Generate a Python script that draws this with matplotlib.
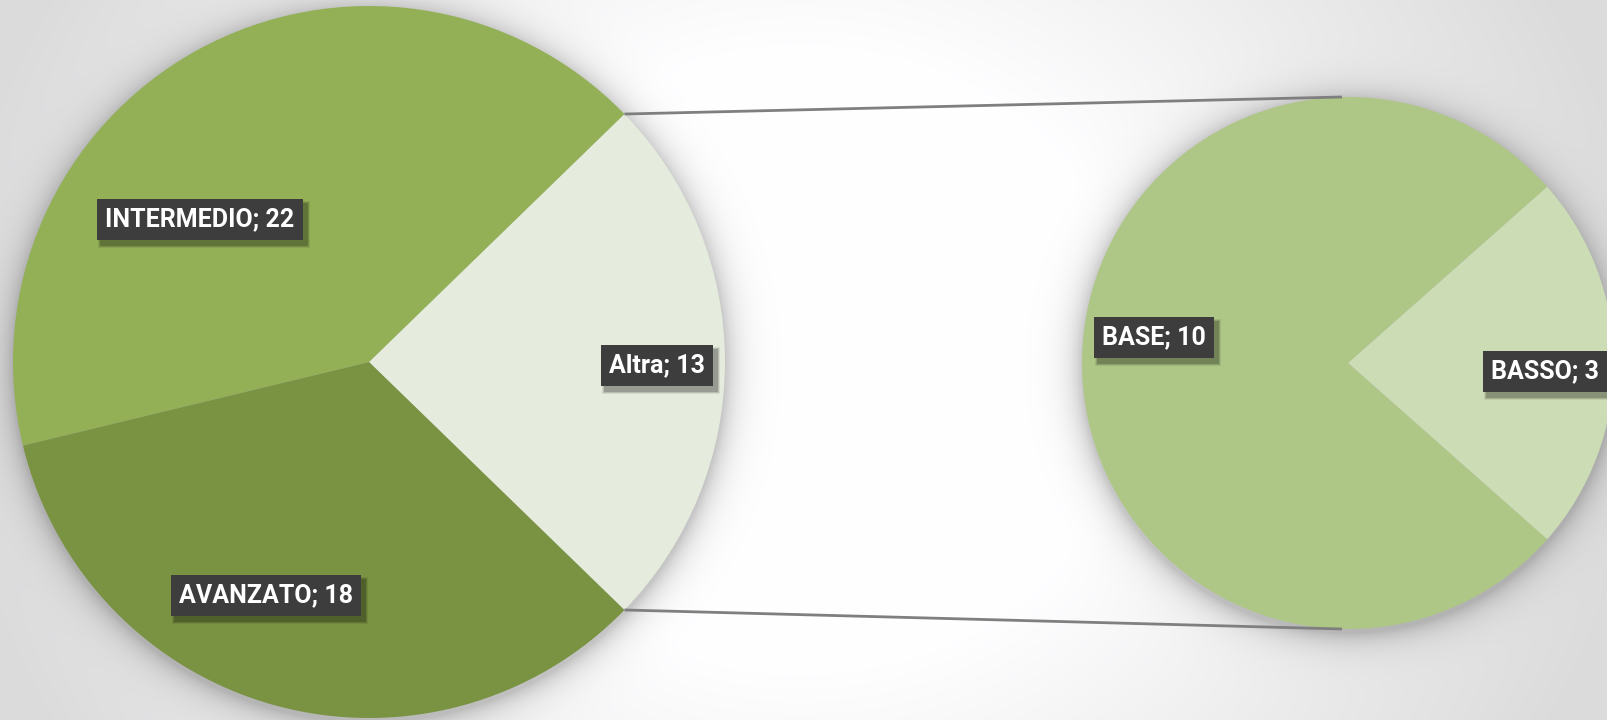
import numpy as np
import matplotlib
matplotlib.use('Agg')
import matplotlib.pyplot as plt
from matplotlib.patches import Rectangle

# data: first two go in the main pie, the rest are grouped as "Altra"
categories = ['INTERMEDIO', 'AVANZATO', 'BASE', 'BASSO']
values = [22, 18, 10, 3]
other_label = 'Altra'

main_colors = ['#93B057', '#7A9343']
other_color = '#E5ECDD'
sub_colors = {'BASE': '#AEC786', 'BASSO': '#CCDCB5'}

W, H = 1607, 720
# pie geometry in pixels (y measured from the bottom)
c1, r1 = (369, H - 362), 356
c2, r2 = (1348, H - 363), 266

# label box centres in pixels from the top
label_pos = {'INTERMEDIO': (200, 219), 'AVANZATO': (266, 595),
             'Altra': (657, 365), 'BASE': (1154, 337), 'BASSO': (1545, 371)}

plt.rcParams['font.family'] = ['Roboto', 'DejaVu Sans']

fig = plt.figure(figsize=(W / 100, H / 100), dpi=100)
ax = fig.add_axes([0, 0, 1, 1])

# background: soft vignette plus blurred shadows around both pies
yy, xx = np.mgrid[0:H, 0:W] + 0.5
d = np.sqrt(((xx - 800) / 800) ** 2 + ((yy - 360) / 720) ** 2)
bg = 1.0 - 0.14 * np.clip((d - 0.42) / 0.65, 0, 1)
for (cx, cy), r in [(c1, r1), (c2, r2)]:
    dist = np.sqrt((xx - cx) ** 2 + (yy - (H - cy) - 4) ** 2) - r
    sh = 0.22 * np.exp(-np.clip(dist, 0, None) / 14.0)
    bg *= 1 - sh
img = np.dstack([bg, bg, bg * 1.005]).clip(0, 1)
ax.imshow(img, extent=(0, W, 0, H), origin='upper', zorder=0, interpolation='bilinear')

# main pie: the grouped slice sits centred on the right side
main_vals = values[:2]
sub_vals = values[2:]
other_val = sum(sub_vals)
main_all = [other_val] + main_vals
total = sum(main_all)
half1 = 180.0 * other_val / total
ax.pie(main_all, colors=[other_color] + main_colors, startangle=-half1,
       center=c1, radius=r1, counterclock=True,
       wedgeprops=dict(linewidth=0, antialiased=True))

# secondary pie: BASSO centred on the right, BASE the rest
sub_order = [categories[3], categories[2]]
sub_order_vals = [values[3], values[2]]
half2 = 180.0 * sub_order_vals[0] / sum(sub_order_vals)
ax.pie(sub_order_vals, colors=[sub_colors[k] for k in sub_order],
       startangle=-half2, center=c2, radius=r2, counterclock=True,
       wedgeprops=dict(linewidth=0, antialiased=True))

# connector lines from the grouped slice to top / bottom of the second pie
a = np.radians(half1)
for s in (1, -1):
    x0 = c1[0] + r1 * np.cos(a)
    y0 = c1[1] + s * r1 * np.sin(a)
    ax.plot([x0, c2[0] - 6], [y0, c2[1] + s * r2], color='#7f7f7f', lw=2,
            solid_capstyle='butt', zorder=3)

ax.set_xlim(0, W)
ax.set_ylim(0, H)
ax.set_aspect('auto')
ax.axis('off')

# data labels: white bold text on a dark box with a soft drop shadow
label_vals = dict(zip(categories, values))
label_vals[other_label] = other_val
texts = []
for name, (px, py) in label_pos.items():
    t = ax.text(px, H - py, f'{name}; {label_vals[name]}', fontsize=18,
                fontweight='bold', color='white', ha='center', va='center',
                zorder=6)
    texts.append((t, px, H - py))

fig.canvas.draw()
r = fig.canvas.get_renderer()
bh = 41
for t, x, y in texts:
    ext = t.get_window_extent(r)
    bw = ext.width + 16
    for k, al in enumerate([0.08, 0.12, 0.18]):
        g = 3 - k
        ax.add_patch(Rectangle((x - bw / 2 + 4 - g, y - bh / 2 - 5 - g), bw + 2 * g,
                               bh + 2 * g, fc='black', ec='none', alpha=al, zorder=4))
    ax.add_patch(Rectangle((x - bw / 2, y - bh / 2), bw, bh, fc='#3d3d3d',
                           ec='none', zorder=5))

fig.savefig('out.png', dpi=100)
